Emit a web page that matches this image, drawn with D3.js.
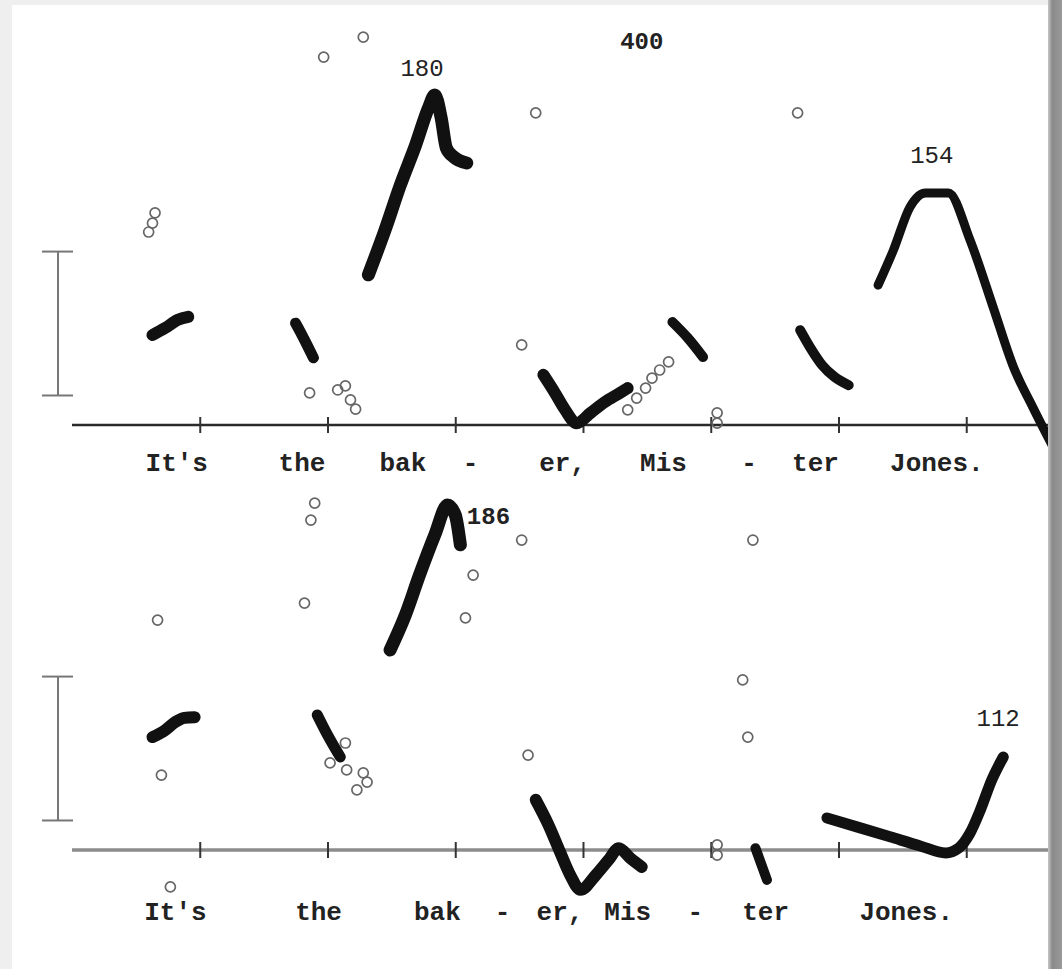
<!DOCTYPE html>
<html>
<head>
<meta charset="utf-8">
<script src="https://cdn.jsdelivr.net/npm/d3@7"></script>
<style>
  html, body { margin: 0; padding: 0; background: #f2f2f2; }
  svg { display: block; }
</style>
</head>
<body>
<div class="container"></div>
<script>
// time in ms, pitch in Hz

// ---- top panel (first reading) ----
var top_its   = [[63,114.4],[73,116.3],[83,118.5],[91,119.3]];
var top_the   = [[175,117.6],[180,114.4],[184,111.7],[189,108.2]];
var top_bak   = [[232,130.7],[245,142.8],[257,155.0],[269,165.9],[279,175.9],[284,179.4],[289,173.2],[293,165.1],[299,162.6],[309,161.0]];
var top_er    = [[369,103.6],[378,98.7],[386,94.1],[395,90.5],[406,93.3],[417,96.2],[429,98.7],[435,100.0]];
var top_mis   = [[470,117.9],[482,113.6],[494,108.4]];
var top_ter   = [[570,115.7],[578,110.9],[587,106.3],[597,103.0],[608,100.8]];
var top_jones = [[631,127.9],[643,137.4],[656,149.1],[668,152.9],[686,152.9],[703,140.1],[721,122.0],[737,105.7],[752,94.9],[768,84.0]];

var top_points = [[63,144.7],[65,147.5],[60,142.3],[197,189.7],[228,195.1],[186,98.7],[208,99.5],[214,100.6],
  [218,96.8],[222,94.3],[363,174.6],[352,111.7],[568,174.6],[435,94.1],[442,97.3],[449,100.0],[454,102.7],
  [460,104.9],[467,107.1],[505,93.3],[505,90.5]];

var top_words  = ["It's","the","bak","-","er,","Mis","-","ter","Jones."];
var top_word_t = [82,180,259,312,384,463,530,582,677];

var top_peaks  = [{text:"180", t:274, hz:186.2, bold:false},
                  {text:"400", t:446, hz:193.5, bold:true},
                  {text:"154", t:673, hz:162.6, bold:false}];

// ---- bottom panel (second reading) ----
var bot_its   = [[63,120.6],[73,122.5],[81,124.7],[88,125.8],[96,126.0]];
var bot_the   = [[192,126.6],[200,121.2],[210,115.2]];
var bot_bak   = [[249,144.2],[261,153.7],[272,164.5],[284,175.4],[294,183.5],[300,180.8],[304,172.7]];
var bot_er    = [[363,103.6],[373,96.8],[382,89.5],[390,83.2],[398,79.2],[410,83.2],[420,87.3],[428,90.5],[437,87.8],[446,85.4]];
var bot_ter   = [[535,90.5],[539,86.7],[544,81.9]];
var bot_jones = [[591,98.7],[617,96.0],[641,93.5],[664,91.1],[684,89.2],[694,90.5],[703,94.6],[711,100.8],[720,109.0],[729,115.2]];

var bot_points = [[67,152.3],[70,110.3],[182,156.9],[190,184.0],[187,179.4],[308,152.9],[314,164.5],[352,174.0],
  [357,115.7],[214,119.0],[202,113.6],[215,111.7],[228,110.9],[231,108.4],[223,106.3],[77,80.0],
  [533,174.0],[525,136.1],[529,120.6],[505,91.4],[505,88.6]];

var bot_words  = ["It's","the","bak","-","er,","Mis","-","ter","Jones."];
var bot_word_t = [81,193,286,337,382,435,488,543,653];

var bot_peaks  = [{text:"186", t:326, hz:180.2, bold:true},
                  {text:"112", t:725, hz:125.2, bold:false}];

var tick_ms   = [100,200,300,400,500,600,700];
var scale_bar = [98,137];

// ---- layout ----
var W = 1062, H = 969;
var svg = d3.select("div.container").append("svg")
    .attr("width", W)
    .attr("height", H);

// paper + scanner shadow
var defs = svg.append("defs");
var grad = defs.append("linearGradient").attr("id","shade");
grad.append("stop").attr("offset","0%").attr("stop-color","#c8c8c8");
grad.append("stop").attr("offset","30%").attr("stop-color","#8a8a8a");
grad.append("stop").attr("offset","100%").attr("stop-color","#9a9a9a");
svg.append("rect").attr("width", W).attr("height", H).attr("fill", "#efefef");
svg.append("rect").attr("x", 12).attr("y", 5).attr("width", 1036).attr("height", H - 5).attr("fill", "#fff");
svg.append("rect").attr("x", 1048).attr("y", 0).attr("width", 14).attr("height", H).attr("fill", "url(#shade)");

defs.append("clipPath").attr("id","paper")
  .append("rect").attr("x", 12).attr("y", 5).attr("width", 1036).attr("height", H - 5);

var x_scale = d3.scaleLinear().domain([0, 764]).range([72, 1048]);

var line = d3.line()
    .curve(d3.curveMonotoneX)
    .x(function(d) { return x_scale(d[0]); });

function panel(base, axis_color, axis_width, word_dy, segs, points, words, word_t, peaks) {
  var y_scale = d3.scaleLinear().domain([90, 200]).range([base, base - 110 * 3.69]);
  var g = svg.append("g").attr("clip-path", "url(#paper)");

  // time axis
  g.append("line")
      .attr("x1", x_scale(0)).attr("x2", x_scale(764))
      .attr("y1", base).attr("y2", base)
      .attr("stroke", axis_color)
      .attr("stroke-width", axis_width);

  var ax = g.append("g")
      .attr("transform", "translate(0," + (base - 8) + ")")
      .call(d3.axisBottom(x_scale).tickValues(tick_ms).tickSize(16).tickFormat(""));
  ax.select(".domain").remove();
  ax.selectAll(".tick line").attr("stroke", "#333").attr("stroke-width", 2);

  // calibration bar
  var bx = x_scale(0) - 14;
  var bar = g.append("g").attr("stroke", "#777").attr("stroke-width", 2);
  bar.append("line").attr("x1", bx).attr("x2", bx)
      .attr("y1", y_scale(scale_bar[0])).attr("y2", y_scale(scale_bar[1]));
  scale_bar.forEach(function(v) {
    bar.append("line").attr("x1", bx - 16).attr("x2", bx + 15)
        .attr("y1", y_scale(v)).attr("y2", y_scale(v));
  });

  // stray pitch points
  g.selectAll("circle.pt")
      .data(points)
    .enter().append("circle")
      .attr("class", "pt")
      .attr("cx", function(d) { return x_scale(d[0]); })
      .attr("cy", function(d) { return y_scale(d[1]); })
      .attr("r", 5)
      .attr("fill", "none")
      .attr("stroke", "#666")
      .attr("stroke-width", 1.7);

  // contours
  line.y(function(d) { return y_scale(d[1]); });
  segs.forEach(function(s) {
    g.append("path")
        .datum(s.data)
        .attr("fill", "none")
        .attr("stroke", "#111")
        .attr("stroke-width", s.w)
        .attr("stroke-linecap", "round")
        .attr("stroke-linejoin", "round")
        .attr("d", line);
  });

  // peak values
  peaks.forEach(function(p) {
    g.append("text")
        .attr("x", x_scale(p.t))
        .attr("y", y_scale(p.hz))
        .attr("text-anchor", "middle")
        .attr("dominant-baseline", "middle")
        .attr("font-family", "Liberation Mono, DejaVu Sans Mono, monospace")
        .attr("font-size", 24)
        .attr("font-weight", p.bold ? "bold" : "normal")
        .attr("fill", "#222")
        .text(p.text);
  });

  // syllables
  g.selectAll("text.word")
      .data(words)
    .enter().append("text")
      .attr("class", "word")
      .attr("x", function(d, i) { return x_scale(word_t[i]); })
      .attr("y", base + word_dy)
      .attr("text-anchor", "middle")
      .attr("dominant-baseline", "middle")
      .attr("font-family", "Liberation Mono, DejaVu Sans Mono, monospace")
      .attr("font-size", 26)
      .attr("font-weight", "bold")
      .attr("fill", "#222")
      .text(function(d) { return d; });
}

panel(425, "#2a2a2a", 2.5, 39,
  [{data: top_its, w: 12}, {data: top_the, w: 11}, {data: top_bak, w: 13}, {data: top_er, w: 12},
   {data: top_mis, w: 10}, {data: top_ter, w: 10}, {data: top_jones, w: 9}],
  top_points, top_words, top_word_t, top_peaks);

panel(850, "#8c8c8c", 3.5, 63,
  [{data: bot_its, w: 12}, {data: bot_the, w: 11}, {data: bot_bak, w: 13}, {data: bot_er, w: 12},
   {data: bot_ter, w: 10}, {data: bot_jones, w: 11}],
  bot_points, bot_words, bot_word_t, bot_peaks);
</script>
</body>
</html>
